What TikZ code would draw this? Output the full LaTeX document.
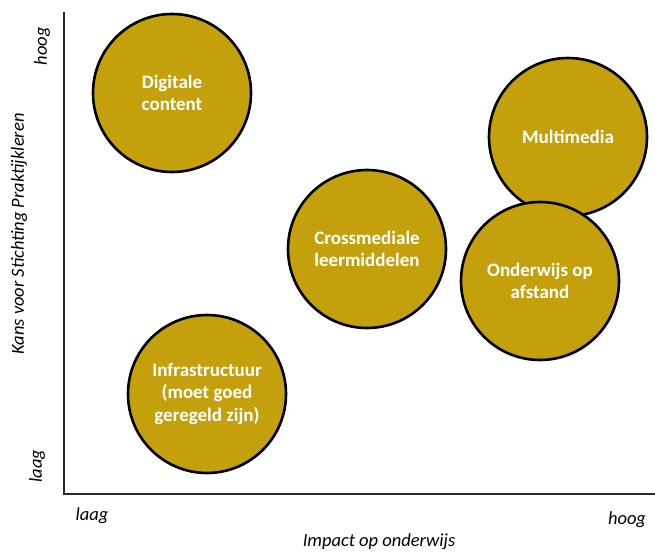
\documentclass[tikz,border=0pt]{standalone}
\usepackage{fontspec}
\setmainfont{Carlito}
\definecolor{gold}{RGB}{195,160,12}
\tikzset{every picture/.style={line width=0.75pt}}
\tikzset{
  bubble/.style={circle,draw=black,line width=2.6pt,fill=gold,minimum size=158,
    inner sep=0pt,align=center,text=white,font=\fontsize{19}{22.5}\selectfont\bfseries},
  axislabel/.style={inner sep=0.75pt,font=\fontsize{18.5}{21}\selectfont\itshape},
  axisline/.style={draw={rgb,255:red,40;green,40;blue,40},line width=1.8pt}
}
\begin{document}
\begin{tikzpicture}[x=1pt,y=1pt,yscale=-1,xscale=1]
\useasboundingbox (0,0) rectangle (655,554);

%Straight Lines [axes]
\coordinate (ytop) at (64,12);
\coordinate (orig) at (64,494);
\coordinate (xend) at (655,494);
\draw [axisline] (ytop) -- (orig) -- (xend);

%Shape: Circle [bubbles]
\node [bubble] (digitaal) at (172,93) {Digitale\\content};
\node [bubble] (multimedia) at (568,137) {Multimedia};
\node [bubble] (crossmedia) at (367,249) {Crossmediale\\leermiddelen};
\node [bubble] (afstand) at (540,281) {Onderwijs op\\afstand};
\node [bubble] (infra) at (207,394) {Infrastructuur\\(moet goed\\geregeld zijn)};

% Text Node
\node [axislabel,rotate=90] (yhoog) at (42,46) {hoog};
% Text Node
\node [axislabel,rotate=90] (ylaag) at (37,466) {laag};
% Text Node
\node [axislabel,rotate=90] (ytitle) at (19,234) {Kans voor Stichting Praktijkleren};
% Text Node
\node [axislabel] (xlaag) at (92,516) {laag};
% Text Node
\node [axislabel] (xhoog) at (627,520) {hoog};
% Text Node
\node [axislabel] (xtitle) at (379,542) {Impact op onderwijs};

\end{tikzpicture}
\end{document}
